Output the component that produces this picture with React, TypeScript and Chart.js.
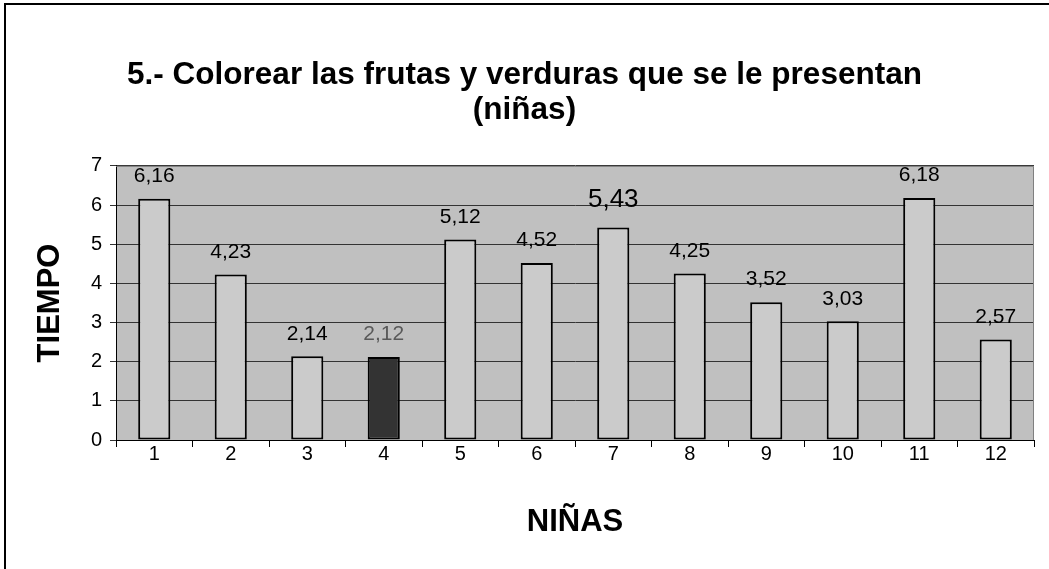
import React, { useEffect, useRef } from "react";
import { Chart, registerables } from "chart.js";

Chart.register(...registerables);

const TITLE_LINES = ["5.- Colorear las frutas y verduras que se le presentan", "(niñas)"];
const CATEGORIES = ["1", "2", "3", "4", "5", "6", "7", "8", "9", "10", "11", "12"];
const VALUES = [6.16, 4.23, 2.14, 2.12, 5.12, 4.52, 5.43, 4.25, 3.52, 3.03, 6.18, 2.57];
const VALUE_LABELS = ["6,16", "4,23", "2,14", "2,12", "5,12", "4,52", "5,43", "4,25", "3,52", "3,03", "6,18", "2,57"];
const Y_MIN = 0;
const Y_MAX = 7;
const Y_STEP = 1;
const X_TITLE = "NIÑAS";
const Y_TITLE = "TIEMPO";

const HIGHLIGHT_INDEX = 3;
const BIG_LABEL_INDEX = 6;
const FONT = "'Liberation Sans', Arial, sans-serif";

const decorPlugin = {
  id: "decor",
  beforeDraw(chart: any) {
    const { ctx, width, height, chartArea } = chart;
    ctx.save();
    ctx.fillStyle = "#ffffff";
    ctx.fillRect(0, 0, width, height);
    ctx.fillStyle = "#000000";
    ctx.fillRect(4, 3, 2, height);
    ctx.fillRect(4, 3, width, 2);
    ctx.fillStyle = "#c0c0c0";
    ctx.fillRect(chartArea.left, chartArea.top, chartArea.right - chartArea.left, chartArea.bottom - chartArea.top);
    ctx.restore();
  },
  afterDraw(chart: any) {
    const { ctx, chartArea } = chart;
    ctx.save();
    ctx.strokeStyle = "#808080";
    ctx.lineWidth = 1;
    ctx.beginPath();
    ctx.moveTo(chartArea.left, chartArea.top + 0.5);
    ctx.lineTo(chartArea.right - 0.5, chartArea.top + 0.5);
    ctx.lineTo(chartArea.right - 0.5, chartArea.bottom);
    ctx.stroke();
    ctx.restore();
  },
};

const labelPlugin = {
  id: "valueLabels",
  afterDatasetsDraw(chart: any) {
    const { ctx } = chart;
    const meta = chart.getDatasetMeta(0);
    ctx.save();
    ctx.textAlign = "center";
    ctx.textBaseline = "bottom";
    meta.data.forEach((el: any, i: number) => {
      const big = i === BIG_LABEL_INDEX;
      ctx.font = `${big ? 26 : 21}px ${FONT}`;
      ctx.fillStyle = i === HIGHLIGHT_INDEX ? "#595959" : "#000000";
      ctx.fillText(VALUE_LABELS[i], el.x, el.y - (big ? 15 : 12));
    });
    ctx.restore();
  },
};

export default function App() {
  const ref = useRef<HTMLCanvasElement | null>(null);
  useEffect(() => {
    if (!ref.current) return;
    const chart = new Chart(ref.current, {
      type: "bar",
      data: {
        labels: CATEGORIES,
        datasets: [
          {
            data: VALUES,
            backgroundColor: (c: any) => (c.dataIndex === HIGHLIGHT_INDEX ? "#333333" : "#cbcbcb"),
            borderColor: "#000000",
            borderWidth: 2,
            borderSkipped: false,
            barPercentage: 0.42,
            categoryPercentage: 1,
          },
        ],
      },
      options: {
        responsive: false,
        animation: false,
        devicePixelRatio: 1,
        layout: { padding: { left: 0, right: 0, top: 0, bottom: 0 } },
        plugins: {
          legend: { display: false },
          tooltip: { enabled: false },
          title: {
            display: true,
            text: TITLE_LINES,
            color: "#000000",
            font: { family: FONT, size: 31.5, weight: "bold", lineHeight: 1.11 },
            padding: { top: 57.5, bottom: 38.5 },
          },
        },
        scales: {
          x: {
            offset: true,
            grid: { display: true, drawOnChartArea: false, drawTicks: true, tickLength: 7, color: "#000000", offset: true },
            border: { display: true, color: "#000000", width: 1 },
            ticks: { color: "#000000", font: { family: FONT, size: 20 }, padding: -5 },
            title: {
              display: true,
              text: X_TITLE,
              color: "#000000",
              font: { family: FONT, size: 31, weight: "bold" },
              padding: { top: 0, bottom: 28.4 },
            },
            afterFit: (s: any) => {
              s.height = 129;
            },
          },
          y: {
            min: Y_MIN,
            max: Y_MAX,
            ticks: { stepSize: Y_STEP, color: "#000000", font: { family: FONT, size: 20 }, padding: 8 },
            grid: { color: "#333333", lineWidth: 1, tickLength: 6, drawTicks: true },
            border: { display: true, color: "#000000", width: 1 },
            title: {
              display: true,
              text: Y_TITLE,
              color: "#000000",
              font: { family: FONT, size: 31, weight: "bold" },
              padding: { top: 31.4, bottom: 0 },
            },
            afterFit: (s: any) => {
              s.width = 116;
            },
          },
          yRight: {
            position: "right",
            display: true,
            min: Y_MIN,
            max: Y_MAX,
            grid: { display: false, drawTicks: false },
            border: { display: false },
            ticks: { display: false },
            afterFit: (s: any) => {
              s.width = 15;
            },
          },
        },
      },
      plugins: [decorPlugin, labelPlugin],
    } as any);
    return () => chart.destroy();
  }, []);
  return (
    <div style={{ position: "absolute", left: 0, top: 0, width: 1049, height: 569, overflow: "hidden" }}>
      <canvas ref={ref} width={1049} height={569} style={{ display: "block", width: 1049, height: 569 }} />
    </div>
  );
}
